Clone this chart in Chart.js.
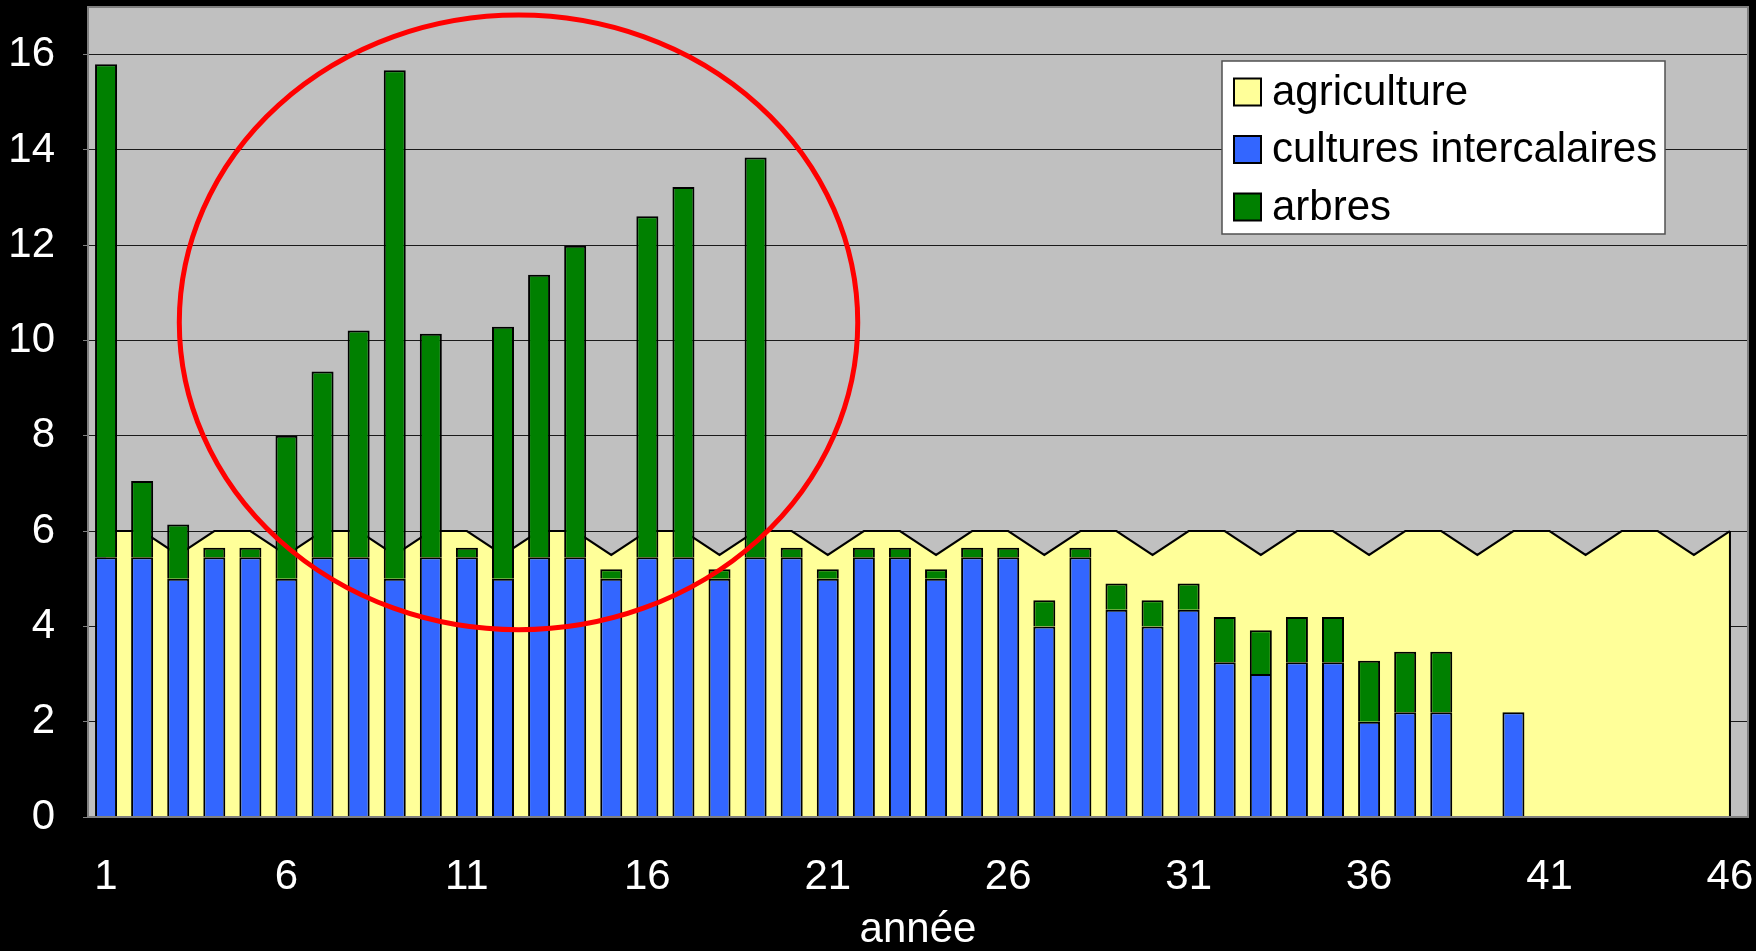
<!DOCTYPE html>
<html>
<head>
<meta charset="utf-8">
<script src="https://cdn.jsdelivr.net/npm/chart.js@4/dist/chart.umd.min.js"></script>
<style>
  html, body { margin: 0; padding: 0; background: #000; }
  canvas { display: block; }
</style>
</head>
<body>
<canvas id="chart" width="1756" height="951"></canvas>
<script>
// ---- data ----
const years = ['1','2','3','4','5','6','7','8','9','10','11','12','13','14','15','16','17','18','19','20',
  '21','22','23','24','25','26','27','28','29','30','31','32','33','34','35','36','37','38','39','40',
  '41','42','43','44','45','46'];

const agriculture = [6, 6, 5.5, 6, 6, 5.5, 6, 6, 5.5, 6, 6, 5.5, 6, 6, 5.5, 6, 6, 5.5, 6, 6,
  5.5, 6, 6, 5.5, 6, 6, 5.5, 6, 6, 5.5, 6, 6, 5.5, 6, 6, 5.5, 6, 6, 5.5, 6,
  6, 5.5, 6, 6, 5.5, 6];

const culturesIntercalaires = [5.45, 5.45, 5.0, 5.45, 5.45, 5.0, 5.45, 5.45, 5.0, 5.45,
  5.45, 5.0, 5.45, 5.45, 5.0, 5.45, 5.45, 5.0, 5.45, 5.45,
  5.0, 5.45, 5.45, 5.0, 5.45, 5.45, 4.0, 5.45, 4.35, 4.0,
  4.35, 3.25, 3.0, 3.25, 3.25, 2.0, 2.2, 2.2, null, 2.2,
  null, null, null, null, null, null];

const arbres = [10.35, 1.6, 1.14, 0.2, 0.2, 3.0, 3.9, 4.76, 10.67, 4.69,
  0.2, 5.29, 5.93, 6.54, 0.2, 7.16, 7.77, 0.2, 8.39, 0.2,
  0.2, 0.2, 0.2, 0.2, 0.2, 0.2, 0.55, 0.2, 0.55, 0.55,
  0.55, 0.95, 0.92, 0.95, 0.95, 1.28, 1.27, 1.27, null, null,
  null, null, null, null, null, null];

const yTicks = [0, 2, 4, 6, 8, 10, 12, 14, 16];
const xTickLabels = ['1', '6', '11', '16', '21', '26', '31', '36', '41', '46'];
const seriesLabels = ['agriculture', 'cultures intercalaires', 'arbres'];
const axisTitle = 'année';

// red ellipse annotation in data units (category index, value)
const ellipseCenterIndex = 11.43;
const ellipseCenterValue = 10.38;
const ellipseRadiusCategories = 9.4;
const ellipseRadiusValue = 6.45;

// ---- styles ----
const FONT = "'Liberation Sans', Arial, Helvetica, sans-serif";
const COL_YELLOW = '#FFFF99';
const COL_BLUE = '#3366FF';
const COL_GREEN = '#008000';
const COL_PLOT = '#C0C0C0';

const backgroundPlugin = {
  id: 'bg',
  beforeDraw(chart) {
    const {ctx, chartArea: a, width, height} = chart;
    ctx.save();
    ctx.fillStyle = '#000';
    ctx.fillRect(0, 0, width, height);
    ctx.fillStyle = COL_PLOT;
    ctx.fillRect(a.left, a.top, a.right - a.left, a.bottom - a.top);
    ctx.restore();
  },
  afterDatasetDraw(chart, args) {
    if (args.index !== 0) return;
    // closing vertical edge of the area at the last category
    const meta = chart.getDatasetMeta(0);
    const last = meta.data[meta.data.length - 1];
    const y0 = chart.scales.y.getPixelForValue(0);
    const ctx = chart.ctx;
    ctx.save();
    ctx.strokeStyle = '#000';
    ctx.lineWidth = 2;
    ctx.beginPath();
    ctx.moveTo(last.x, last.y);
    ctx.lineTo(last.x, y0);
    ctx.stroke();
    ctx.restore();
  },
  afterDatasetsDraw(chart) {
    const {ctx, chartArea: a, scales: {x, y}} = chart;
    ctx.save();
    // plot border
    ctx.strokeStyle = '#808080';
    ctx.lineWidth = 2;
    ctx.strokeRect(a.left, a.top, a.right - a.left, a.bottom - a.top);
    // red ellipse
    const cx = x.getPixelForValue(ellipseCenterIndex);
    const perCat = x.getPixelForValue(1) - x.getPixelForValue(0);
    const cy = y.getPixelForValue(ellipseCenterValue);
    const ry = Math.abs(y.getPixelForValue(ellipseCenterValue + ellipseRadiusValue) - cy);
    ctx.strokeStyle = '#FF0000';
    ctx.lineWidth = 5;
    ctx.beginPath();
    ctx.ellipse(cx, cy, ellipseRadiusCategories * perCat, ry, 0, 0, Math.PI * 2);
    ctx.stroke();
    ctx.restore();
  },
  afterDraw(chart) {
    // legend box inside the plot area
    const ctx = chart.ctx;
    const bx = 1222, by = 61, bw = 443, bh = 173;
    ctx.save();
    ctx.fillStyle = '#FFFFFF';
    ctx.fillRect(bx, by, bw, bh);
    ctx.strokeStyle = '#505050';
    ctx.lineWidth = 1.5;
    ctx.strokeRect(bx, by, bw, bh);
    ctx.font = '42px ' + FONT;
    ctx.textBaseline = 'middle';
    ctx.textAlign = 'left';
    chart.data.datasets.forEach((ds, i) => {
      const cyRow = 92 + i * 57.5;
      ctx.fillStyle = ds.backgroundColor;
      ctx.fillRect(1234, cyRow - 13.5, 27, 27);
      ctx.strokeStyle = '#000';
      ctx.lineWidth = 2;
      ctx.strokeRect(1234, cyRow - 13.5, 27, 27);
      ctx.fillStyle = '#000';
      ctx.fillText(ds.label, 1272, cyRow + 1);
    });
    ctx.restore();
  }
};

new Chart(document.getElementById('chart'), {
  data: {
    labels: years,
    datasets: [
      {
        type: 'line',
        label: seriesLabels[0],
        data: agriculture,
        stack: 'agri',
        order: 5,
        backgroundColor: COL_YELLOW,
        borderColor: '#000',
        borderWidth: 2,
        pointRadius: 0,
        tension: 0,
        fill: 'origin',
        borderJoinStyle: 'miter'
      },
      {
        type: 'bar',
        label: seriesLabels[1],
        data: culturesIntercalaires,
        stack: 'main',
        order: 1,
        backgroundColor: COL_BLUE,
        borderColor: '#000',
        borderWidth: 2,
        categoryPercentage: 1,
        barPercentage: 0.61
      },
      {
        type: 'bar',
        label: seriesLabels[2],
        data: arbres,
        stack: 'main',
        order: 1,
        backgroundColor: COL_GREEN,
        borderColor: '#000',
        borderWidth: 2,
        categoryPercentage: 1,
        barPercentage: 0.61
      }
    ]
  },
  options: {
    responsive: false,
    animation: false,
    devicePixelRatio: 1,
    layout: { padding: { top: 7, right: 8, left: 0, bottom: 0 } },
    plugins: {
      legend: { display: false },
      tooltip: { enabled: false }
    },
    scales: {
      x: {
        stacked: true,
        offset: true,
        grid: { display: false, drawTicks: false },
        border: { display: false },
        ticks: {
          color: '#FFFFFF',
          font: { family: FONT, size: 42 },
          padding: 35,
          autoSkip: false,
          maxRotation: 0,
          callback: (v, i) => xTickLabels.includes(years[i]) ? years[i] : ''
        },
        title: {
          display: true,
          text: axisTitle,
          color: '#FFFFFF',
          font: { family: FONT, size: 42, lineHeight: 1 },
          padding: { top: 0, bottom: 0 }
        },
        afterFit(s) {
          s.height = 134;
          s.paddingLeft = 0; s.paddingRight = 0; s.paddingTop = 0; s.paddingBottom = 0;
        }
      },
      y: {
        stacked: true,
        min: 0,
        max: 17,
        grid: { color: '#1A1A1A', lineWidth: 1, tickLength: 5, tickColor: '#808080' },
        border: { display: false },
        ticks: {
          color: '#FFFFFF',
          font: { family: FONT, size: 42 },
          padding: 28
        },
        afterBuildTicks(s) {
          s.ticks = yTicks.map(v => ({ value: v }));
        },
        afterFit(s) {
          s.width = 88;
          s.paddingLeft = 0; s.paddingRight = 0; s.paddingTop = 0; s.paddingBottom = 0;
        }
      }
    }
  },
  plugins: [backgroundPlugin]
});
</script>
</body>
</html>
